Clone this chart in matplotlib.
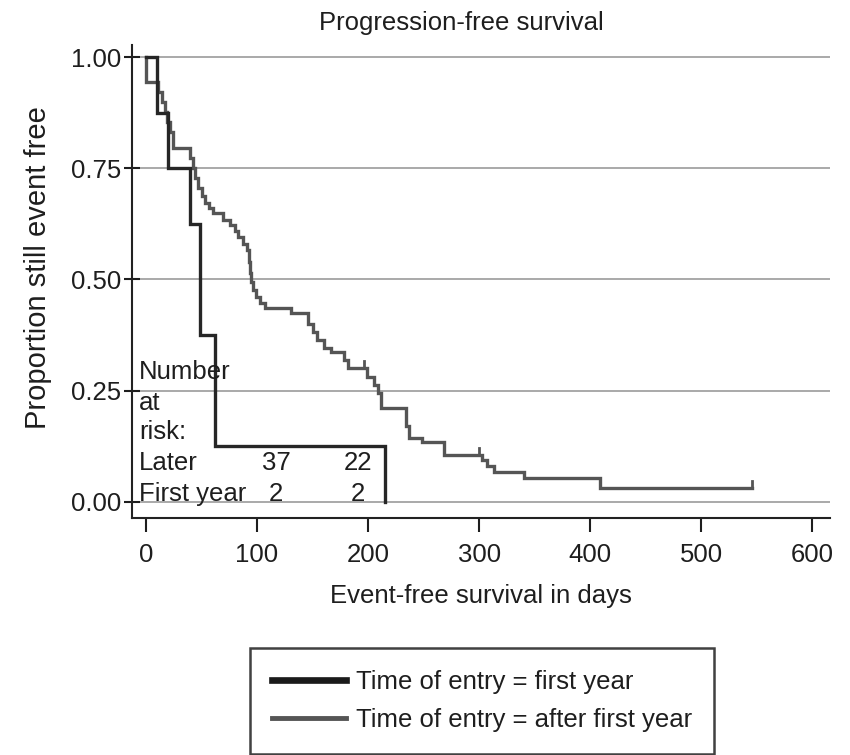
import numpy as np
import matplotlib
matplotlib.use("Agg")
from matplotlib import pyplot as plt

## Kaplan-Meier step data (event time in days, survival after the event)
first_times = [0, 10, 20, 40, 49, 62, 215]
first_surv = [1.0, 0.875, 0.75, 0.625, 0.375, 0.125, 0.0]

later_times = [0, 0, 11, 14, 17, 19, 22, 24, 40, 42, 44, 47, 50, 53, 57, 60,
               69, 76, 80, 83, 87, 91, 93, 94, 95, 96, 99, 103, 107, 131,
               146, 150, 154, 160, 167, 178, 182, 199, 205, 209, 212, 234,
               237, 249, 268, 303, 307, 313, 340, 409]
later_surv = [1.0, 0.944, 0.921, 0.899, 0.876, 0.854, 0.831, 0.795, 0.773,
              0.750, 0.727, 0.705, 0.688, 0.672, 0.660, 0.650, 0.634, 0.622,
              0.610, 0.595, 0.580, 0.566, 0.540, 0.515, 0.495, 0.476, 0.460,
              0.447, 0.436, 0.424, 0.400, 0.382, 0.364, 0.346, 0.337, 0.319,
              0.301, 0.281, 0.262, 0.245, 0.211, 0.170, 0.144, 0.135, 0.106,
              0.094, 0.080, 0.067, 0.054, 0.031]
later_last = 546
later_censored = [196, 300, 546]

risk_groups = ['Later', 'First year']
risk_counts = [[37, 22], [2, 2]]

plt.rcParams['font.family'] = ['Liberation Sans', 'DejaVu Sans']
text_col = '#1e1e1e'
fs = 18.5


def step_xy(times, surv, tend=None):
    xs, ys = [times[0]], [surv[0]]
    for t, s in zip(times[1:], surv[1:]):
        xs += [t, t]
        ys += [ys[-1], s]
    if tend is not None:
        xs.append(tend)
        ys.append(ys[-1])
    return xs, ys


def surv_at(times, surv, t):
    idx = np.searchsorted(times, t, side='right') - 1
    return surv[idx]


fig = plt.figure(figsize=(8.5, 7.55), dpi=100)
ax = fig.add_axes([132/850, 1-518/755, 698/850, 473/755])

for yv in [0, 0.25, 0.5, 0.75, 1.0]:
    ax.axhline(yv, color='#a3a3a3', lw=1.3, zorder=1)

x1, y1 = step_xy(first_times, first_surv)
ax.plot(x1, y1, color='#262626', lw=2.4, solid_joinstyle='miter', zorder=3,
        label='Time of entry = first year')
x2, y2 = step_xy(later_times, later_surv, later_last)
ax.plot(x2, y2, color='#555555', lw=2.4, solid_joinstyle='miter', zorder=2,
        label='Time of entry = after first year')
for tc in later_censored:
    sc = surv_at(later_times, later_surv, tc)
    ax.plot([tc, tc], [sc, sc+0.016], color='#555555', lw=2.0, zorder=2)

## number at risk table
ax.text(-6, 0.292, 'Number', fontsize=fs, color=text_col, va='center')
ax.text(-6, 0.222, 'at', fontsize=fs, color=text_col, va='center')
ax.text(-6, 0.157, 'risk:', fontsize=fs, color=text_col, va='center')
risk_y = [0.088, 0.018]
risk_x = [117, 191]
for g, yy, counts in zip(risk_groups, risk_y, risk_counts):
    ax.text(-6, yy, g, fontsize=fs, color=text_col, va='center')
    for xx, c in zip(risk_x, counts):
        ax.text(xx, yy, str(c), fontsize=fs, color=text_col,
                va='center', ha='center')

ax.set_xlim(-12.6, 616)
ax.set_ylim(-0.036, 1.027)
ax.set_xticks([0, 100, 200, 300, 400, 500, 600])
ax.set_yticks([0, 0.25, 0.5, 0.75, 1.0])
ax.set_yticklabels(['0.00', '0.25', '0.50', '0.75', '1.00'])
ax.tick_params(axis='both', labelsize=fs, colors=text_col, width=1.5)
ax.tick_params(axis='y', direction='inout', length=12, pad=2)
ax.tick_params(axis='x', direction='out', length=10, pad=8)
for side in ['top', 'right']:
    ax.spines[side].set_visible(False)
for side in ['left', 'bottom']:
    ax.spines[side].set_linewidth(1.5)
    ax.spines[side].set_color('#222222')

ax.set_xlabel('Event-free survival in days', fontsize=fs, color=text_col,
              labelpad=12)
ax.set_ylabel('Proportion still event free', fontsize=21, color=text_col)
ax.yaxis.set_label_coords(-0.115, 0.53)
ax.set_title('Progression-free survival', fontsize=fs, color=text_col,
             x=(461-132)/698, pad=11)

leg = fig.legend(loc='upper center', bbox_to_anchor=(482/850, 1-648/755),
                 fontsize=fs, frameon=True, fancybox=False, handlelength=2.9,
                 handletextpad=0.4, labelspacing=0.55, borderpad=0.85,
                 borderaxespad=0)
leg.get_frame().set_edgecolor('#111111')
leg.get_frame().set_linewidth(1.8)
for t in leg.get_texts():
    t.set_color(text_col)
leg.get_lines()[0].set_linewidth(4.8)
leg.get_lines()[0].set_color('#1a1a1a')
leg.get_lines()[1].set_linewidth(3.5)

fig.savefig('out.png', dpi=100)
